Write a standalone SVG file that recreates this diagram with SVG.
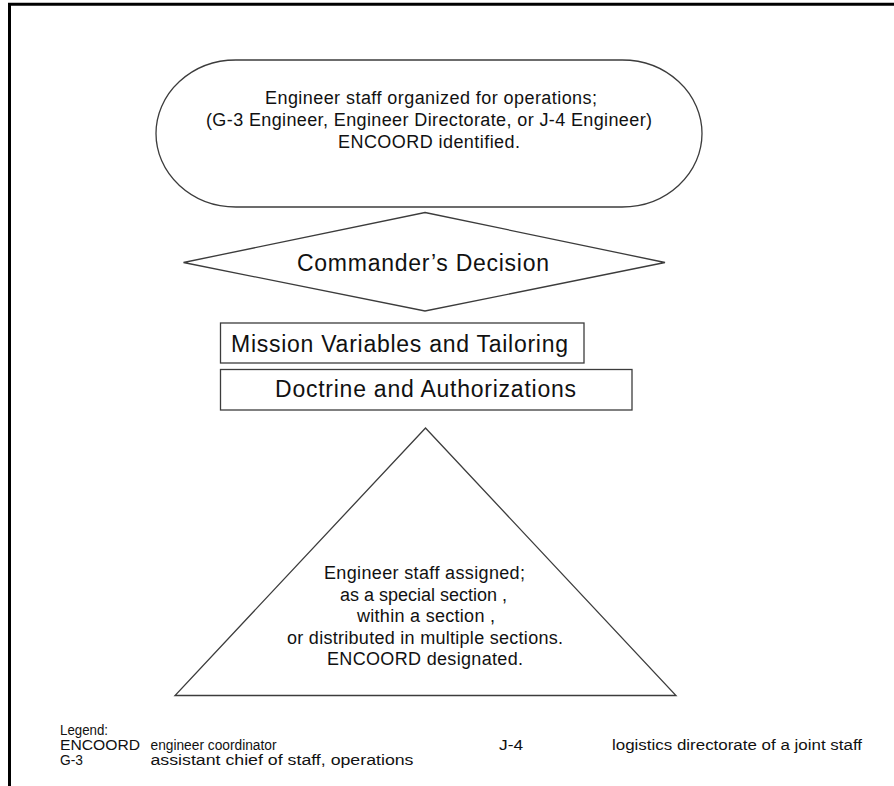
<svg xmlns="http://www.w3.org/2000/svg" width="894" height="786" viewBox="0 0 894 786">
  <style>
    .shape { fill: #ffffff; stroke: #3c3c3c; stroke-width: 1.3; }
    .label { font-family: "Liberation Sans", Arial, sans-serif; fill: #111111; text-anchor: middle; }
    .small { font-size: 18px; }
    .big { font-size: 23px; }
    .legend { font-family: "Liberation Sans", Arial, sans-serif; font-size: 14px; fill: #111111; }
  </style>
  <rect x="0" y="0" width="894" height="786" fill="#ffffff"/>
  <!-- page frame (top and left edges) -->
  <path d="M9.5,786 V4.2 H894" fill="none" stroke="#000000" stroke-width="3"/>

  <g id="organized">
    <rect class="shape" x="156" y="60" width="546" height="147" rx="80" ry="73.5"/>
    <text class="label small" x="431" y="104" textLength="332">Engineer staff organized for operations;</text>
    <text class="label small" x="429" y="126" textLength="446">(G-3 Engineer, Engineer Directorate, or J-4 Engineer)</text>
    <text class="label small" x="429" y="148" textLength="182">ENCOORD identified.</text>
  </g>

  <g id="decision">
    <polygon class="shape" points="425,212.5 665,262.5 425,311 183.5,262.5"/>
    <text class="label big" x="423" y="271" textLength="252">Commander’s Decision</text>
  </g>

  <g id="mission">
    <rect class="shape" x="220.5" y="323" width="363.5" height="40"/>
    <text class="label big" x="399.5" y="352" textLength="337">Mission Variables and Tailoring</text>
  </g>

  <g id="doctrine">
    <rect class="shape" x="220.5" y="369.5" width="411.5" height="40.5"/>
    <text class="label big" x="425.5" y="397" textLength="301">Doctrine and Authorizations</text>
  </g>

  <g id="assigned">
    <polygon class="shape" points="425.5,428 676,695.5 175,695.5"/>
    <text class="label small" x="424.5" y="579" textLength="201">Engineer staff assigned;</text>
    <text class="label small" x="423.5" y="600.5" textLength="167">as a special section ,</text>
    <text class="label small" x="426" y="622" textLength="138">within a section ,</text>
    <text class="label small" x="425" y="643.5" textLength="276">or distributed in multiple sections.</text>
    <text class="label small" x="425" y="665" textLength="196">ENCOORD designated.</text>
  </g>

  <g id="legend">
    <text class="legend" x="60" y="735" textLength="48" lengthAdjust="spacingAndGlyphs">Legend:</text>
    <text class="legend" x="60" y="750" textLength="80" lengthAdjust="spacingAndGlyphs">ENCOORD</text>
    <text class="legend" x="150.5" y="750" textLength="126" lengthAdjust="spacingAndGlyphs">engineer coordinator</text>
    <text class="legend" x="60" y="765" textLength="23" lengthAdjust="spacingAndGlyphs">G-3</text>
    <text class="legend" x="150.5" y="765" textLength="263" lengthAdjust="spacingAndGlyphs">assistant chief of staff, operations</text>
    <text class="legend" x="499" y="750" textLength="24" lengthAdjust="spacingAndGlyphs">J-4</text>
    <text class="legend" x="612" y="750" textLength="250" lengthAdjust="spacingAndGlyphs">logistics directorate of a joint staff</text>
  </g>
</svg>
